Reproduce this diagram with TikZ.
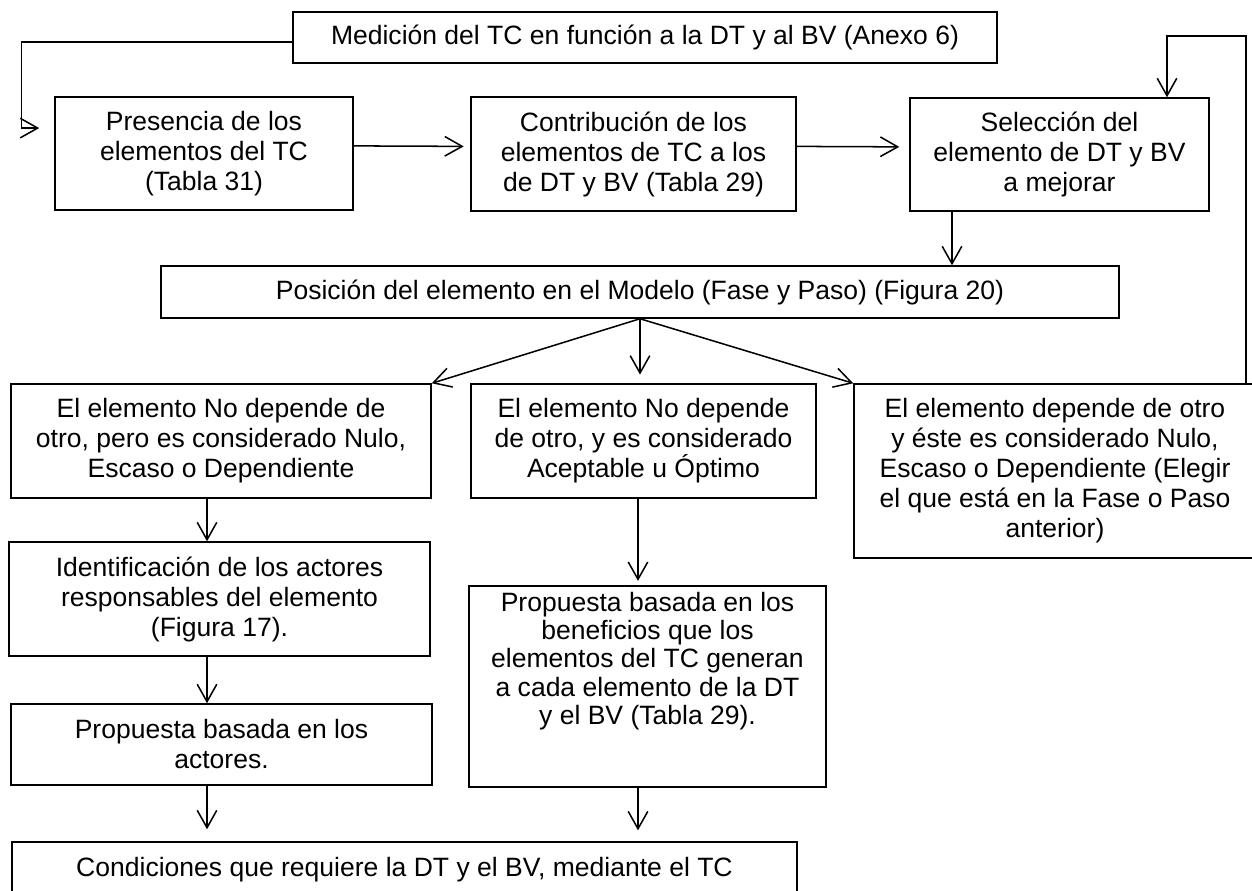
\documentclass[tikz,border=0pt]{standalone}
\usepackage{fontspec}
\setmainfont{Liberation Sans}
\usetikzlibrary{arrows.meta}

\tikzset{
  box/.style={draw, line width=0.7pt, rectangle, inner sep=0pt, align=center,
    font=\fontsize{12.2}{13.8}\selectfont},
  arr/.style={line width=0.7pt, -{Straight Barb[length=8pt,width=9pt]}}
}

\begin{document}
\begin{tikzpicture}[x=0.46pt, y=-0.46pt]
        \useasboundingbox (0,0) rectangle (1252,890);
        \clip (0,0) rectangle (1252,890);

        \node[box, minimum width=323.8pt, minimum height=23.5pt] (med) at (645,37.5)
            {Medición del TC en función a la DT y al BV (Anexo 6)};
        \node[box, minimum width=137.1pt, minimum height=52pt] (pres) at (204,153.5)
            {Presencia de los\\elementos del TC\\(Tabla 31)};
        \node[box, minimum width=149.5pt, minimum height=52.4pt] (contr) at (633.5,154)
            {Contribución de los\\elementos de TC a los\\de DT y BV (Tabla 29)};
        \node[box, minimum width=137.5pt, minimum height=52pt] (sel) at (1059.5,154.5)
            {Selección del\\elemento de DT y BV\\a mejorar};
        \node[box, minimum width=440.7pt, minimum height=23.9pt] (pos) at (640,292)
            {Posición del elemento en el Modelo (Fase y Paso) (Figura 20)};

        \node[box, minimum width=193.2pt, minimum height=52.4pt] (nulo) at (221,441)
            {El elemento No depende de\\otro, pero es considerado Nulo,\\Escaso o Dependiente};
        \node[box, minimum width=158.7pt, minimum height=52.4pt] (acep) at (643.5,441)
            {El elemento No depende\\de otro, y es considerado\\Aceptable u Óptimo};
        \node[box, minimum width=184.9pt, minimum height=80pt] (dep) at (1055,471)
            {El elemento depende de otro\\y éste es considerado Nulo,\\Escaso o Dependiente (Elegir\\el que está en la Fase o Paso\\anterior)};

        \node[box, minimum width=193.7pt, minimum height=52.4pt] (ident) at (219.5,599)
            {Identificación de los actores\\responsables del elemento\\(Figura 17).};
        \node[box, minimum width=193.7pt, minimum height=37.3pt] (propact) at (221.5,744.5)
            {Propuesta basada en los\\actores.};
        \node[box, minimum width=164.2pt, minimum height=92.5pt,
              font=\fontsize{12.2}{13}\selectfont] (propben) at (647.5,686.5)
            {Propuesta basada en los\\beneficios que los\\elementos del TC generan\\a cada elemento de la DT\\y el BV (Tabla 29).\\[13pt]\mbox{}};
        \node[box, minimum width=361.1pt, minimum height=25.8pt] (cond) at (404.5,870)
            {Condiciones que requiere la DT y el BV, mediante el TC};

        \coordinate (cA) at (207,0);
        \coordinate (cB) at (638,0);
        \coordinate (cS) at (952,0);
        \coordinate (cR) at (1167,0);
        \coordinate (lp) at (1246,36);

        \draw[arr, shorten >=6.9pt] ([yshift=-2pt]med.west) -- ++(-271,0) |- ([yshift=11.7pt]pres.west);
        \draw[arr, shorten >=3pt] ([yshift=3.5pt]pres.east) -- ([yshift=3.5pt]contr.west);
        \draw[arr, shorten >=4.6pt] ([yshift=3.5pt]contr.east) -- ([yshift=3.5pt]sel.west);
        \draw[arr] (lp |- dep.north) -- (lp) -| (cR |- sel.north);
        \draw[arr] (cS |- sel.south) -- (cS |- pos.north);

        \draw[arr] (pos.south) -- (nulo.north east);
        \draw[arr, shorten >=4pt] (pos.south) -- (pos.south |- acep.north);
        \draw[arr] (pos.south) -- (dep.north west);

        \draw[arr] (cA |- nulo.south) -- (cA |- ident.north);
        \draw[arr] (cA |- ident.south) -- (cA |- propact.north);
        \draw[arr, shorten >=5.5pt] (cA |- propact.south) -- (cA |- cond.north);
        \draw[arr, shorten >=2pt] (cB |- acep.south) -- (cB |- propben.north);
        \draw[arr, shorten >=5pt] (cB |- propben.south) -- (cB |- cond.north);
    \end{tikzpicture}
\end{document}
